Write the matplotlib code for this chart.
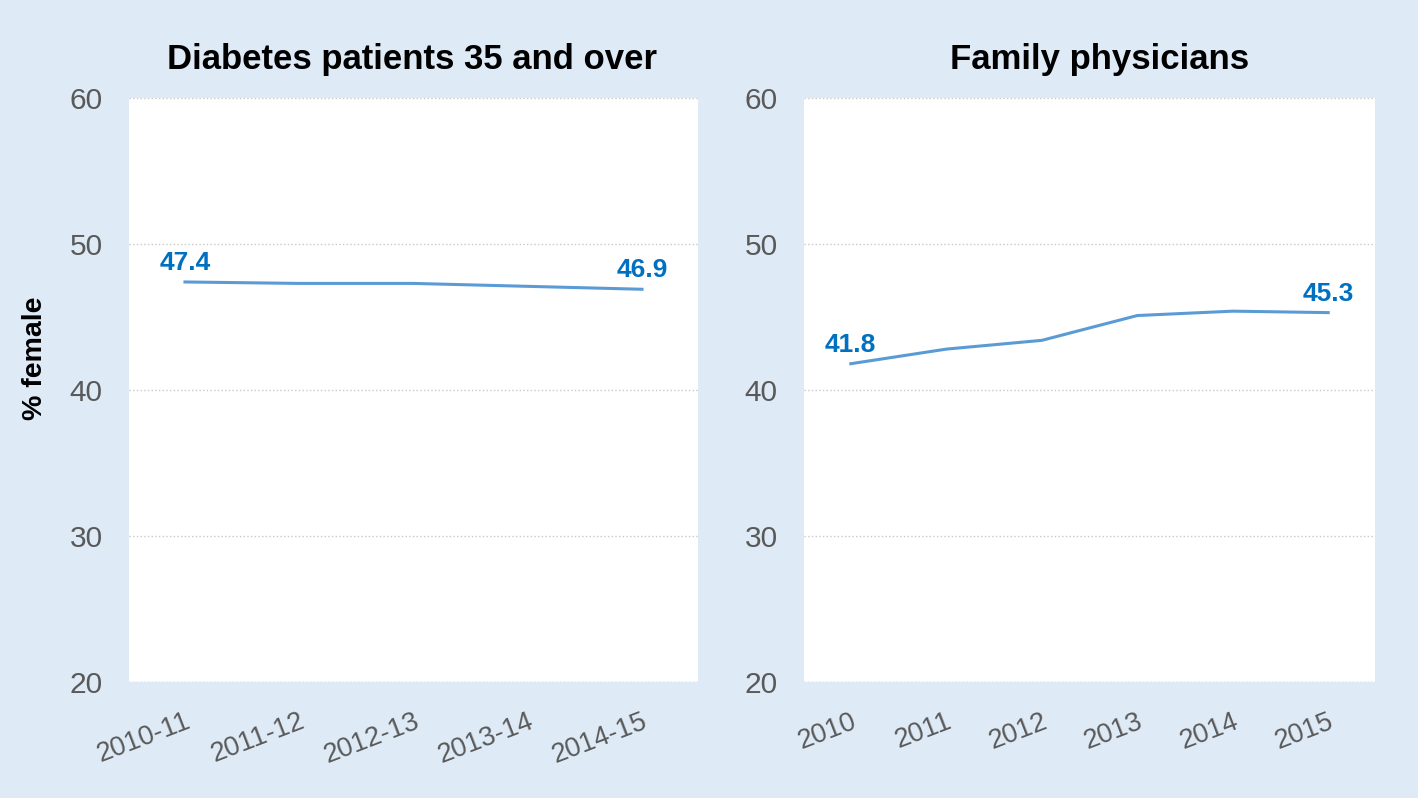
import matplotlib.pyplot as plt
import numpy as np

plt.rcParams['font.family'] = ['Liberation Sans', 'DejaVu Sans']

# left panel: diabetes patients 35+
diab_years = ['2010-11', '2011-12', '2012-13', '2013-14', '2014-15']
diab_pct = [47.4, 47.3, 47.3, 47.1, 46.9]

# right panel: family physicians
fp_years = ['2010', '2011', '2012', '2013', '2014', '2015']
fp_pct = [41.8, 42.8, 43.4, 45.1, 45.4, 45.3]

bg = '#DEEAF6'
line_col = '#5B9BD5'
lab_col = '#0070C0'
tick_col = '#595959'

fig = plt.figure(figsize=(14.18, 7.98), dpi=100)
fig.patch.set_facecolor(bg)

ax1 = fig.add_axes([129/1418, 1-682/798, 569/1418, 584/798])
ax2 = fig.add_axes([804/1418, 1-682/798, 571/1418, 584/798])


def style(ax, labels, title, title_x):
    ax.set_facecolor('white')
    for s in ax.spines.values():
        s.set_visible(False)
    ax.set_ylim(20, 60)
    ax.set_yticks([20, 30, 40, 50, 60])
    ax.set_xlim(-0.49, len(labels) - 0.51)
    ax.grid(axis='y', color='#C8C8C8', linestyle=':', linewidth=1.0)
    ax.axhline(20, color='#C8C8C8', linestyle=':', linewidth=1.0)
    ax.set_axisbelow(True)
    ax.tick_params(axis='y', length=0, pad=19, labelsize=21.5, labelcolor=tick_col)
    ax.tick_params(axis='x', length=0, pad=19, labelsize=19.5, labelcolor=tick_col)
    ax.set_xticks(np.arange(len(labels)))
    ax.set_xticklabels(labels, rotation=21, ha='right', rotation_mode='anchor')
    ax.set_title(title, fontsize=25, fontweight='bold', pad=21, x=title_x)


def label_ends(ax, vals):
    for i in [0, len(vals) - 1]:
        ax.annotate(f'{vals[i]:.1f}', (i, vals[i]), xytext=(0, 5),
                    textcoords='offset points', ha='center', va='bottom',
                    fontsize=19, fontweight='bold', color=lab_col)


x1 = np.arange(len(diab_years))
ax1.plot(x1, diab_pct, color=line_col, linewidth=2.2)
style(ax1, diab_years, 'Diabetes patients 35 and over', 0.497)
label_ends(ax1, diab_pct)
ax1.set_ylabel('% female', fontsize=20.5, fontweight='bold')
ax1.yaxis.set_label_coords(-0.142, 0.554)

x2 = np.arange(len(fp_years))
ax2.plot(x2, fp_pct, color=line_col, linewidth=2.2)
style(ax2, fp_years, 'Family physicians', 0.518)
label_ends(ax2, fp_pct)

fig.savefig('out.png', dpi=100, facecolor=bg)
